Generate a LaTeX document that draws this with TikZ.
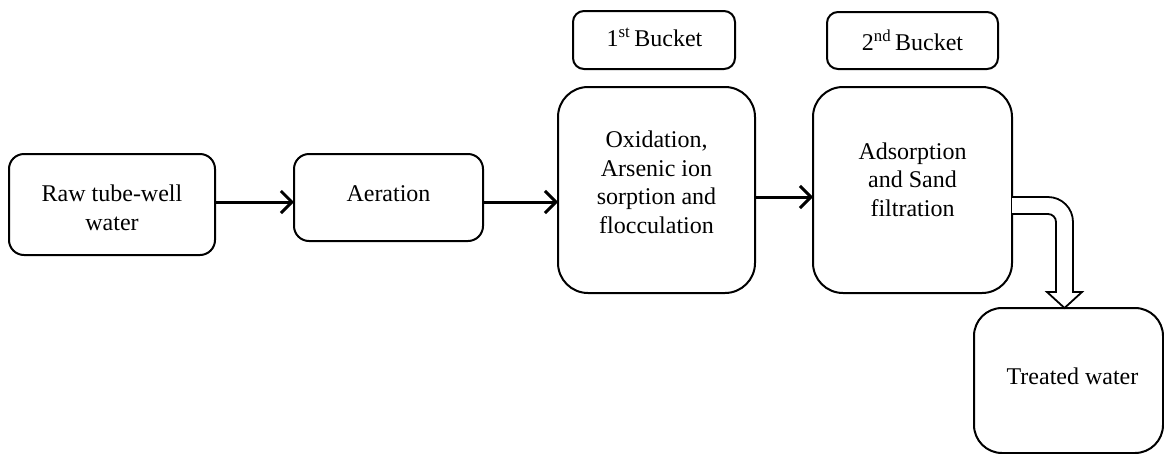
\documentclass[tikz,border=0pt]{standalone}
\usepackage{fontspec}
\setmainfont{Liberation Serif}
\usetikzlibrary{arrows.meta,calc}
\begin{document}
\begin{tikzpicture}[x=1pt,y=-1pt,
  box/.style={draw, line width=2pt, rounded corners=#1, inner sep=0pt, outer sep=0pt, anchor=north west},
  txt/.style={font=\fontsize{24}{28.5}\selectfont, align=center, inner sep=0pt},
  flow/.style={line width=3pt, -{Straight Barb[length=11pt,width=22pt]}},
  hollow/.style={draw, line width=1.8pt, fill=white, line join=miter}]
\useasboundingbox (0,0) rectangle (1164,453);
% boxes
\node[box=15pt, minimum width=206pt, minimum height=101pt] (b1) at (9,154) {};
\node[box=15pt, minimum width=189pt, minimum height=87pt] (b2) at (294,154) {};
\node[box=30pt, minimum width=197pt, minimum height=206pt] (b3) at (558,87) {};
\node[box=30pt, minimum width=199pt, minimum height=206pt] (b4) at (813,87) {};
\node[box=11pt, minimum width=162pt, minimum height=58pt] (k1) at (573,11) {};
\node[box=11pt, minimum width=171pt, minimum height=57pt] (k2) at (827,12) {};
\node[box=28pt, minimum width=189pt, minimum height=145pt] (tw) at (974,308) {};
% texts
\node[txt] (t1) at (112,208) {Raw tube-well\\water};
\node[txt] (t2) at (388.5,193.5) {Aeration};
\node[txt] (t3) at (656.5,182.5) {Oxidation,\\Arsenic ion\\sorption and\\flocculation};
\node[txt] (t4) at (912.5,179.5) {Adsorption\\and Sand\\filtration};
\node[txt] (tk1) at (654.5,37.5) {1\textsuperscript{st}\,Bucket};
\node[txt] (tk2) at (912.5,40) {2\textsuperscript{nd}\,Bucket};
\node[txt] (tt) at (1072.5,376) {Treated water};
% connectors
\draw[flow] (b1.east |- 0,202) -- (b2.west |- 0,202);
\draw[flow] (b2.east |- 0,202) -- (b3.west |- 0,202);
\draw[flow] (b3.east |- 0,197) -- (b4.west |- 0,197);
% hollow bent arrow
\coordinate (hs) at (b4.east |- 0,197);
\coordinate (he) at (tw.north -| 1064.5,0);
\draw[hollow] (hs) -- (1048,197) .. controls (1061.8,197) and (1073,208.2) .. (1073,222)
  -- (1073,292) -- (1082,292) -- (he) -- (1047,292) -- (1056,292) -- (1056,222)
  .. controls (1056,217.6) and (1052.4,214) .. (1048,214) -- (b4.east |- 0,214);
\end{tikzpicture}
\end{document}
